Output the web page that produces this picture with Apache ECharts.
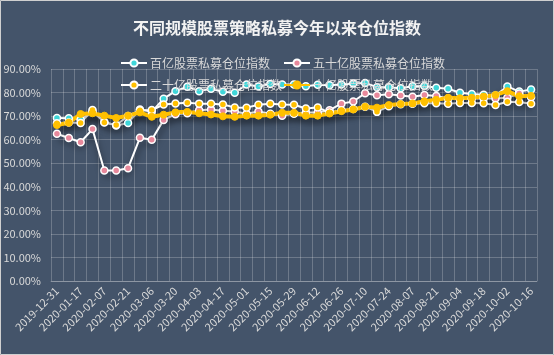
<!DOCTYPE html>
<html><head><meta charset="utf-8">
<script src="https://cdn.jsdelivr.net/npm/echarts@6/dist/echarts.min.js"></script>
<style>html,body{margin:0;padding:0;background:#44546a;}#c{width:554px;height:355px;}</style>
</head><body><div id="c"></div>
<script>
const categories = ["2019-12-31","2020-01-10","2020-01-17","2020-01-23","2020-02-07","2020-02-14","2020-02-21","2020-02-28","2020-03-06","2020-03-13","2020-03-20","2020-03-27","2020-04-03","2020-04-10","2020-04-17","2020-04-24","2020-05-01","2020-05-08","2020-05-15","2020-05-22","2020-05-29","2020-06-05","2020-06-12","2020-06-19","2020-06-26","2020-07-03","2020-07-10","2020-07-17","2020-07-24","2020-07-31","2020-08-07","2020-08-14","2020-08-21","2020-08-28","2020-09-04","2020-09-11","2020-09-18","2020-09-25","2020-10-02","2020-10-09","2020-10-16"];
const s100 = [69.2,69.1,68.5,72.0,67.5,66.0,67.1,72.8,71.8,77.4,80.6,82.5,80.6,81.6,80.3,79.9,83.4,82.6,83.6,83.4,83.4,82.7,83.3,83.1,83.4,83.8,84.1,82.3,82.2,81.8,82.7,82.8,82.0,81.6,79.9,79.4,79.1,78.8,82.6,80.4,81.3];
const s50 = [62.5,60.7,58.9,64.5,46.9,46.9,47.9,60.8,60.0,68.4,70.8,71.2,72.5,72.8,72.3,72.0,71.0,72.0,71.0,70.2,71.0,71.5,71.5,72.5,75.3,76.2,79.7,78.9,79.3,78.8,78.2,79.0,78.5,77.5,77.2,77.5,77.5,77.5,77.8,79.6,78.0];
const s20 = [67.0,67.3,67.1,72.6,67.3,66.2,70.0,72.5,72.6,74.9,75.4,75.7,75.3,75.2,74.9,73.7,73.6,74.8,75.2,74.9,74.8,73.2,73.7,71.5,72.5,73.0,74.0,71.8,74.2,75.0,75.2,75.5,75.5,75.3,75.6,75.6,75.5,74.7,76.1,76.0,75.2];
const s10 = [66.2,67.2,70.9,71.2,70.2,69.2,70.2,71.6,69.7,70.6,71.6,71.8,71.2,70.7,69.9,69.7,70.2,70.2,70.6,71.4,71.4,70.2,70.2,71.1,72.1,72.8,74.0,73.6,74.7,75.1,75.4,76.3,76.9,77.8,77.6,77.8,78.3,79.0,80.6,78.4,78.6];
const names = ["百亿股票私募仓位指数","五十亿股票私募仓位指数","二十亿股票私募仓位指数","十亿股票私募仓位指数"];
const yTicks = {min:0,max:90,interval:10};

const FONT = "'Noto Sans CJK SC', 'Noto Sans', sans-serif";
const txt = '#d9d9d9';
const grid = 'rgba(255,255,255,0.22)';
const shadow = {shadowColor:'rgba(0,0,0,0.55)', shadowBlur:6, shadowOffsetY:5, shadowOffsetX:1};

function thin(name, data, color){
  return {name, type:'line', data, symbol:'circle', symbolSize:7,
    lineStyle:Object.assign({color:'#ffffff', width:2}, shadow),
    itemStyle:{color:color, borderColor:'#ffffff', borderWidth:1.5},
    emphasis:{disabled:true}, animation:false};
}
function leg(name, left, top){
  return {data:[name], left, top, itemWidth:26, itemHeight:9, itemGap:0,
    textStyle:{color:txt, fontSize:12, fontFamily:FONT, padding:[0,0,0,-2]}, selectedMode:false};
}
const chart = echarts.init(document.getElementById('c'), null, {renderer:'canvas'});
chart.setOption({
  backgroundColor:'#44546a',
  textStyle:{fontFamily:FONT},
  title:{text:'不同规模股票策略私募今年以来仓位指数', left:'center', top:15,
    textStyle:{color:'#f2f2f2', fontSize:16, fontWeight:'bold', fontFamily:FONT}},
  legend:[leg(names[0],115,52), leg(names[1],278,52), leg(names[2],115,74), leg(names[3],278,74)],
  grid:{left:51, right:17, top:69, bottom:74},
  xAxis:{type:'category', data:categories, boundaryGap:true,
    axisLine:{lineStyle:{color:grid}}, axisTick:{show:false},
    splitLine:{show:true, interval:0, lineStyle:{color:grid, width:1}},
    axisLabel:{interval:1, rotate:45, color:txt, fontSize:11, fontFamily:FONT, margin:8}},
  yAxis:{type:'value', min:yTicks.min, max:yTicks.max, interval:yTicks.interval,
    axisLine:{show:false}, axisTick:{show:false},
    splitLine:{lineStyle:{color:grid}},
    axisLabel:{color:txt, fontSize:11, fontFamily:FONT, margin:10, formatter:v=>v.toFixed(2)+'%'}},
  graphic:[{type:'rect', shape:{x:0.5,y:0.5,width:553,height:354}, style:{fill:null, stroke:'#d0d0d0', lineWidth:1}, silent:true}],
  series:[
    thin(names[0], s100, '#3fd6d9'),
    thin(names[1], s50, '#e8899c'),
    thin(names[2], s20, '#ffc000'),
    {name:names[3], type:'line', data:s10, symbol:'circle', symbolSize:7,
      lineStyle:Object.assign({color:'#ffc000', width:4}, shadow),
      itemStyle:{color:'#ffc000', borderColor:'#ffc000', borderWidth:1},
      emphasis:{disabled:true}, animation:false}
  ]
});
</script></body></html>
